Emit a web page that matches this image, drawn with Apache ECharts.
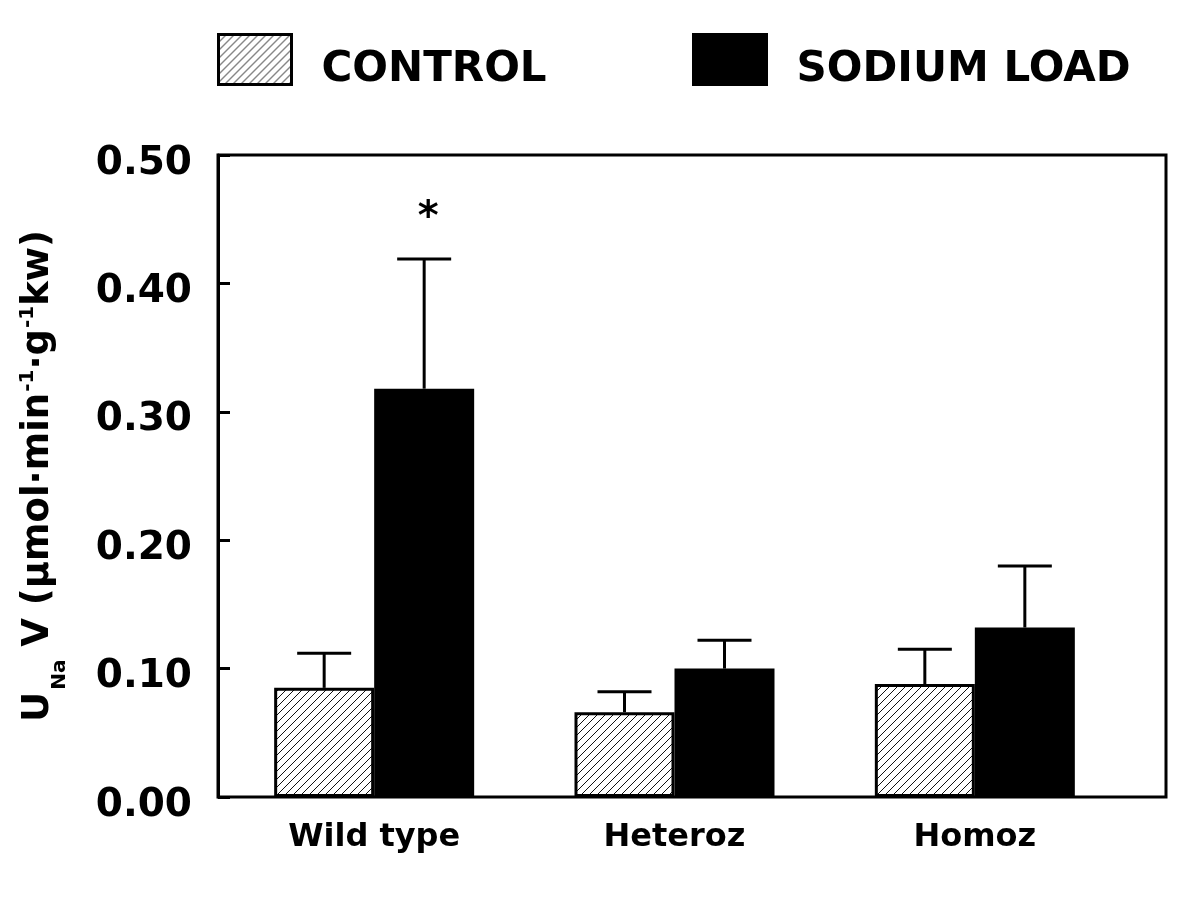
<!DOCTYPE html>
<html><head><meta charset="utf-8">
<script src="https://cdn.jsdelivr.net/npm/echarts@6/dist/echarts.min.js"></script>
<style>html,body{margin:0;padding:0;background:#fff}#c{width:1200px;height:924px}</style>
</head><body><div id="c"></div><script>
// ---- data ----
const categories = ['Wild type', 'Heteroz', 'Homoz'];
const seriesNames = ['CONTROL', 'SODIUM LOAD'];
const controlMean = [0.085, 0.066, 0.088];
const controlErr = [0.027, 0.016, 0.027];
const sodiumMean = [0.318, 0.100, 0.132];
const sodiumErr = [0.101, 0.022, 0.048];
const sodiumMarks = ['*', '', ''];
const yMin = 0, yMax = 0.5, yInterval = 0.1;

// ---- styling ----
const FONT = 'DejaVu Sans';
const BAR_W = 100, CAP = 27;

function hatch() {
  const c = document.createElement('canvas');
  c.width = 8; c.height = 8;
  const g = c.getContext('2d');
  g.fillStyle = '#fff'; g.fillRect(0, 0, 8, 8);
  g.fillStyle = '#111';
  for (let i = 0; i < 8; i++) g.fillRect(i, 7 - i, 1, 1);
  return c;
}
const hatchPattern = { image: hatch(), repeat: 'repeat' };
const hatchLegend = { image: hatch(), repeat: 'repeat' };

const errData = [];
categories.forEach((c, i) => {
  errData.push([i, controlMean[i], controlErr[i], -1]);
  errData.push([i, sodiumMean[i], sodiumErr[i], 1]);
});

function renderErr(params, api) {
  const i = api.value(0), m = api.value(1), e = api.value(2), side = api.value(3);
  const p0 = api.coord([i, m]);
  const p1 = api.coord([i, m + e]);
  const x = p0[0] + side * BAR_W / 2;
  const st = { stroke: '#000', lineWidth: 3 };
  const children = [
    { type: 'line', shape: { x1: x, y1: p0[1], x2: x, y2: p1[1] }, style: st },
    { type: 'line', shape: { x1: x - CAP, y1: p1[1], x2: x + CAP, y2: p1[1] }, style: st }
  ];
  const mark = side === 1 ? sodiumMarks[i] : '';
  if (mark) {
    children.push({ type: 'text', x: x + 4, y: p1[1] - 40,
      style: { text: mark, fill: '#000', font: 'bold 40px ' + FONT, align: 'center', verticalAlign: 'middle' } });
  }
  return { type: 'group', children };
}

const legendText = {
  padding: [0, 0, 0, 25],
  rich: { a: { fontFamily: FONT, fontWeight: 'bold', fontSize: 42, color: '#000', lineHeight: 64, verticalAlign: 'bottom' } }
};
const legendCommon = { padding: 0, icon: 'rect', itemWidth: 73, itemHeight: 50, top: 33,
  itemStyle: { borderColor: '#000', borderWidth: 3 }, textStyle: legendText, selectedMode: false,
  formatter: n => '{a|' + n + '}' };

const option = {
  animation: false,
  backgroundColor: '#fff',
  legend: [
    Object.assign({ data: [{ name: seriesNames[0], itemStyle: { color: hatchLegend } }], left: 217 }, legendCommon),
    Object.assign({ data: [seriesNames[1]], left: 692 }, legendCommon)
  ],
  grid: [
    { left: 218, right: 34, top: 155, bottom: 127, show: true, borderColor: '#000', borderWidth: 3, containLabel: false },
    { left: 224, right: 75, top: 155, bottom: 127, containLabel: false }
  ],
  xAxis: [
    { type: 'value', gridIndex: 0, min: 0, max: 1, show: false },
    { type: 'category', gridIndex: 1, data: categories,
      axisLine: { show: false }, axisTick: { show: false }, splitLine: { show: false },
      axisLabel: { fontFamily: FONT, fontWeight: 'bold', fontSize: 32, color: '#000', margin: 25 } }
  ],
  yAxis: [
    { type: 'value', gridIndex: 0, min: yMin, max: yMax, interval: yInterval,
      axisLine: { show: true, lineStyle: { color: '#000', width: 3 } },
      axisTick: { show: true, inside: true, length: 12, lineStyle: { color: '#000', width: 3 } },
      splitLine: { show: false },
      axisLabel: { margin: 26, formatter: v => '{a|' + v.toFixed(2) + '}',
        rich: { a: { fontFamily: FONT, fontWeight: 'bold', fontSize: 39, color: '#000', lineHeight: 56, verticalAlign: 'bottom' } } },
      name: '{b|U}{sub|Na}{b| V (µmol·min}{sup|-1}{b|·g}{sup|-1}{b|kw)}',
      nameLocation: 'middle', nameGap: 158,
      nameTextStyle: {
        rich: {
          b: { fontFamily: FONT, fontWeight: 'bold', fontSize: 37, color: '#000', lineHeight: 44 },
          sub: { fontFamily: FONT, fontWeight: 'bold', fontSize: 20, color: '#000', lineHeight: 20, verticalAlign: 'top', padding: [34, 0, 0, 2] },
          sup: { fontFamily: FONT, fontWeight: 'bold', fontSize: 20, color: '#000', lineHeight: 20, verticalAlign: 'top', padding: [2, 0, 0, 1] }
        }
      } },
    { type: 'value', gridIndex: 1, min: yMin, max: yMax, interval: yInterval, show: false }
  ],
  series: [
    { name: seriesNames[0], type: 'bar', xAxisIndex: 1, yAxisIndex: 1, data: controlMean,
      barWidth: BAR_W, barGap: '0%', itemStyle: { color: hatchPattern, borderColor: '#000', borderWidth: 3 } },
    { name: seriesNames[1], type: 'bar', xAxisIndex: 1, yAxisIndex: 1, data: sodiumMean,
      barWidth: BAR_W, barGap: '0%', itemStyle: { color: '#000' } },
    { type: 'custom', xAxisIndex: 1, yAxisIndex: 1, data: errData, renderItem: renderErr,
      encode: { x: 0, y: 1 }, z: 5, clip: false, silent: true }
  ]
};
const chart = echarts.init(document.getElementById('c'));
chart.setOption(option);
</script></body></html>
